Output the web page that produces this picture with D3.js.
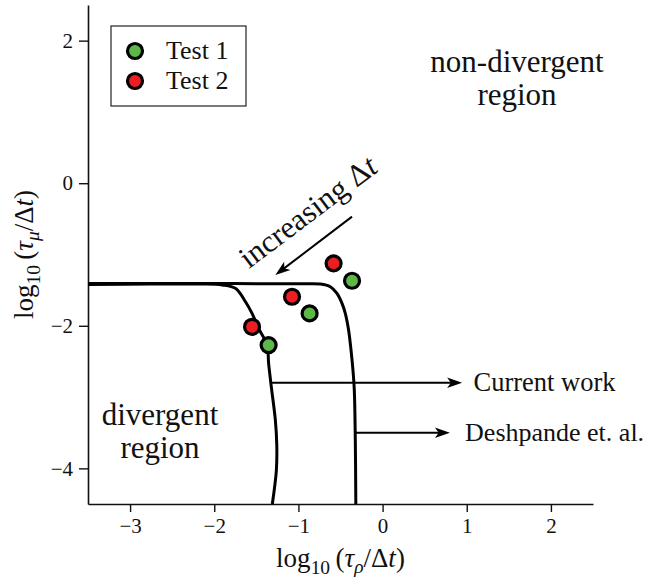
<!DOCTYPE html>
<html>
<head>
<meta charset="utf-8">
<script src="https://cdn.jsdelivr.net/npm/d3@7"></script>
<style>
  html, body { margin: 0; padding: 0; background: #fff; }
  svg text { font-family: "Liberation Serif", "Times New Roman", serif; fill: #111; }
</style>
</head>
<body>
<svg id="chart" width="651" height="585"></svg>
<script>
// Stability boundaries (log10 tau_rho/dt, log10 tau_mu/dt)
const currentWorkX = [-3.495, -2.76, -2.165, -1.904, -1.749, -1.629, -1.551, -1.473, -1.373, -1.354, -1.322, -1.274, -1.257, -1.262, -1.31];
const currentWorkY = [-1.421, -1.414, -1.414, -1.428, -1.475, -1.663, -1.826, -2.037, -2.271, -2.528, -2.857, -3.324, -3.675, -4.027, -4.5];
const deshpandeX = [-3.495, -2.165, -0.977, -0.74, -0.621, -0.542, -0.482, -0.443, -0.404, -0.375, -0.352, -0.336, -0.324, -0.318];
const deshpandeY = [-1.407, -1.407, -1.411, -1.414, -1.452, -1.545, -1.685, -1.826, -2.06, -2.341, -2.622, -2.903, -3.605, -4.5];

// Test cases
const test1X = [-1.354, -0.867, -0.363];
const test1Y = [-2.271, -1.826, -1.368];
const test2X = [-1.551, -1.076, -0.582];
const test2Y = [-2.014, -1.593, -1.124];

const seriesNames = ["Test 1", "Test 2"];
const seriesColors = ["#5db847", "#ec1e24"];

const xTicks = [-3, -2, -1, 0, 1, 2];
const yTicks = [-4, -2, 0, 2];

const svg = d3.select("#chart");
const margin = { left: 88, right: 58, top: 5, bottom: 81 };
const W = 651, H = 585;

const x = d3.scaleLinear().domain([-3.5, 2.5]).range([margin.left, W - margin.right]);
const y = d3.scaleLinear().domain([-4.5, 2.5]).range([H - margin.bottom, margin.top]);

const fmt = d => (d < 0 ? "\u2212" + Math.abs(d) : String(d));

// Axes
const gx = svg.append("g")
  .attr("transform", `translate(0,${y(-4.5)})`)
  .call(d3.axisBottom(x).tickValues(xTicks).tickFormat(fmt).tickSizeOuter(0).tickSizeInner(8).tickPadding(6));
const gy = svg.append("g")
  .attr("transform", `translate(${x(-3.5)},0)`)
  .call(d3.axisLeft(y).tickValues(yTicks).tickFormat(fmt).tickSizeOuter(0).tickSizeInner(9).tickPadding(6));
[gx, gy].forEach(g => {
  g.select(".domain").attr("stroke", "#111").attr("stroke-width", 1.6);
  g.selectAll(".tick line").attr("stroke", "#111").attr("stroke-width", 1.4);
  g.selectAll(".tick text").attr("font-size", 21).attr("font-family", "Liberation Serif").attr("fill", "#111");
});

// Axis labels with subscripts
function mathLabel(t, sub) {
  t.append("tspan").text("log");
  t.append("tspan").attr("font-size", "72%").attr("dy", 7).text("10");
  t.append("tspan").attr("dy", -7).text("\u2009(");
  t.append("tspan").attr("font-style", "italic").text("\u03c4");
  t.append("tspan").attr("font-style", "italic").attr("font-size", "72%").attr("dy", 6).text(sub);
  t.append("tspan").attr("dy", -6).text("/\u0394");
  t.append("tspan").attr("font-style", "italic").text("t");
  t.append("tspan").text(")");
}
mathLabel(svg.append("text")
  .attr("x", (x(-3.5) + x(2.5)) / 2).attr("y", 567)
  .attr("text-anchor", "middle").attr("font-size", 27), "\u03c1");
mathLabel(svg.append("text")
  .attr("transform", `translate(33,${(y(2.5) + y(-4.5)) / 2}) rotate(-90)`)
  .attr("text-anchor", "middle").attr("font-size", 27), "\u03bc");

// Boundary curves
const line = d3.line().x(d => x(d[0])).y(d => y(d[1])).curve(d3.curveCatmullRom.alpha(0.5));
const curves = [d3.zip(deshpandeX, deshpandeY), d3.zip(currentWorkX, currentWorkY)];
svg.append("g").selectAll("path").data(curves).join("path")
  .attr("d", line).attr("fill", "none").attr("stroke", "#000")
  .attr("stroke-width", 3).attr("stroke-linejoin", "round");

// Arrows
function arrow(x1, y1, x2, y2) {
  const dx = x2 - x1, dy = y2 - y1, len = Math.hypot(dx, dy);
  const ux = dx / len, uy = dy / len, px = -uy, py = ux;
  const L = 15, Wd = 5.2;
  svg.append("line").attr("x1", x1).attr("y1", y1)
    .attr("x2", x2 - ux * L * 0.7).attr("y2", y2 - uy * L * 0.7)
    .attr("stroke", "#000").attr("stroke-width", 2);
  const pts = [
    [x2, y2],
    [x2 - ux * L + px * Wd, y2 - uy * L + py * Wd],
    [x2 - ux * L * 0.75, y2 - uy * L * 0.75],
    [x2 - ux * L - px * Wd, y2 - uy * L - py * Wd]
  ];
  svg.append("path").attr("d", "M" + pts.map(p => p.join(",")).join("L") + "Z").attr("fill", "#000");
}
arrow(x(-1.33), y(-2.8), x(0.945), y(-2.8));
arrow(x(-0.32), y(-3.5), x(0.8), y(-3.5));
arrow(x(-0.363), y(-0.469), x(-1.274), y(-1.288));

// Annotation text
svg.append("text").attr("x", x(1.08)).attr("y", y(-2.8) + 8).attr("font-size", 26.5).text("Current work");
svg.append("text").attr("x", x(0.98)).attr("y", y(-3.5) + 8).attr("font-size", 26).text("Deshpande et. al.");

const region = (lines, cx, y0) => {
  const t = svg.append("text").attr("text-anchor", "middle").attr("font-size", 31);
  lines.forEach((s, i) => t.append("tspan").attr("x", cx).attr("y", y0 + i * 33).text(s));
};
region(["non-divergent", "region"], 517, 72);
region(["divergent", "region"], 160, 425);

const inc = svg.append("text").attr("text-anchor", "middle").attr("font-size", 31)
  .attr("transform", "translate(314,220) rotate(-37)");
inc.append("tspan").text("increasing \u0394");
inc.append("tspan").attr("font-style", "italic").text("t");

// Data points
const tests = [d3.zip(test1X, test1Y), d3.zip(test2X, test2Y)];
tests.forEach((pts, i) => {
  svg.append("g").selectAll("circle").data(pts).join("circle")
    .attr("cx", d => x(d[0])).attr("cy", d => y(d[1])).attr("r", 7.5)
    .attr("fill", seriesColors[i]).attr("stroke", "#000").attr("stroke-width", 3.2);
});

// Legend
const lg = svg.append("g");
lg.append("rect").attr("x", 111).attr("y", 26).attr("width", 135).attr("height", 80)
  .attr("fill", "#fff").attr("stroke", "#222").attr("stroke-width", 1.2);
seriesNames.forEach((name, i) => {
  lg.append("circle").attr("cx", 135).attr("cy", 51 + i * 30).attr("r", 7.5)
    .attr("fill", seriesColors[i]).attr("stroke", "#000").attr("stroke-width", 3.2);
  lg.append("text").attr("x", 166).attr("y", 59 + i * 30).attr("font-size", 26).text(name);
});
</script>
</body>
</html>
